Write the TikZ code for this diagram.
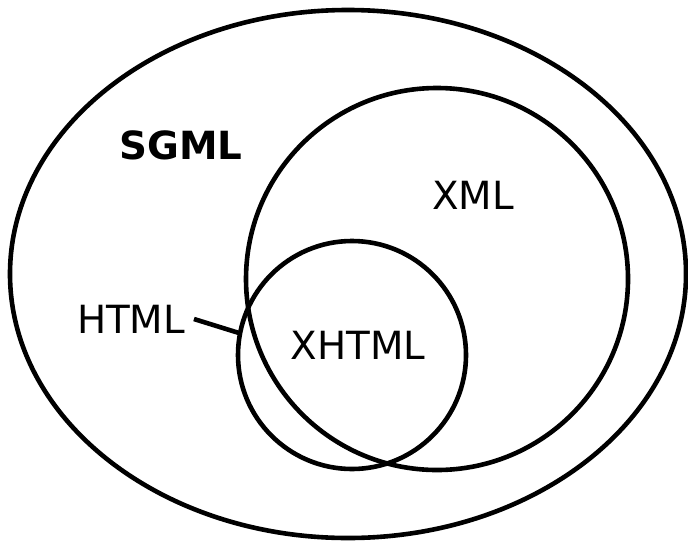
\documentclass[tikz,border=0pt]{standalone}
\usepackage{fontspec}
\setmainfont{DejaVu Sans}
\begin{document}
\begin{tikzpicture}[x=0.5pt,y=-0.5pt,line width=2.3pt,font=\fontsize{19.4}{23}\selectfont]
\useasboundingbox (0,0) rectangle (688,540);
\draw (348,274) ellipse [x radius=338, y radius=264];
\draw (437,279) circle [radius=191];
\draw (352,355) circle [radius=114];
\node (sgml) at (181,145) {\bfseries SGML};
\node (xml) at (473,195) {XML};
\node (xhtml) at (358,345) {XHTML};
\node (html) at (131,319) {HTML};
\coordinate (htmledge) at (239,333);
\draw (html.east) -- (htmledge);
\end{tikzpicture}
\end{document}
